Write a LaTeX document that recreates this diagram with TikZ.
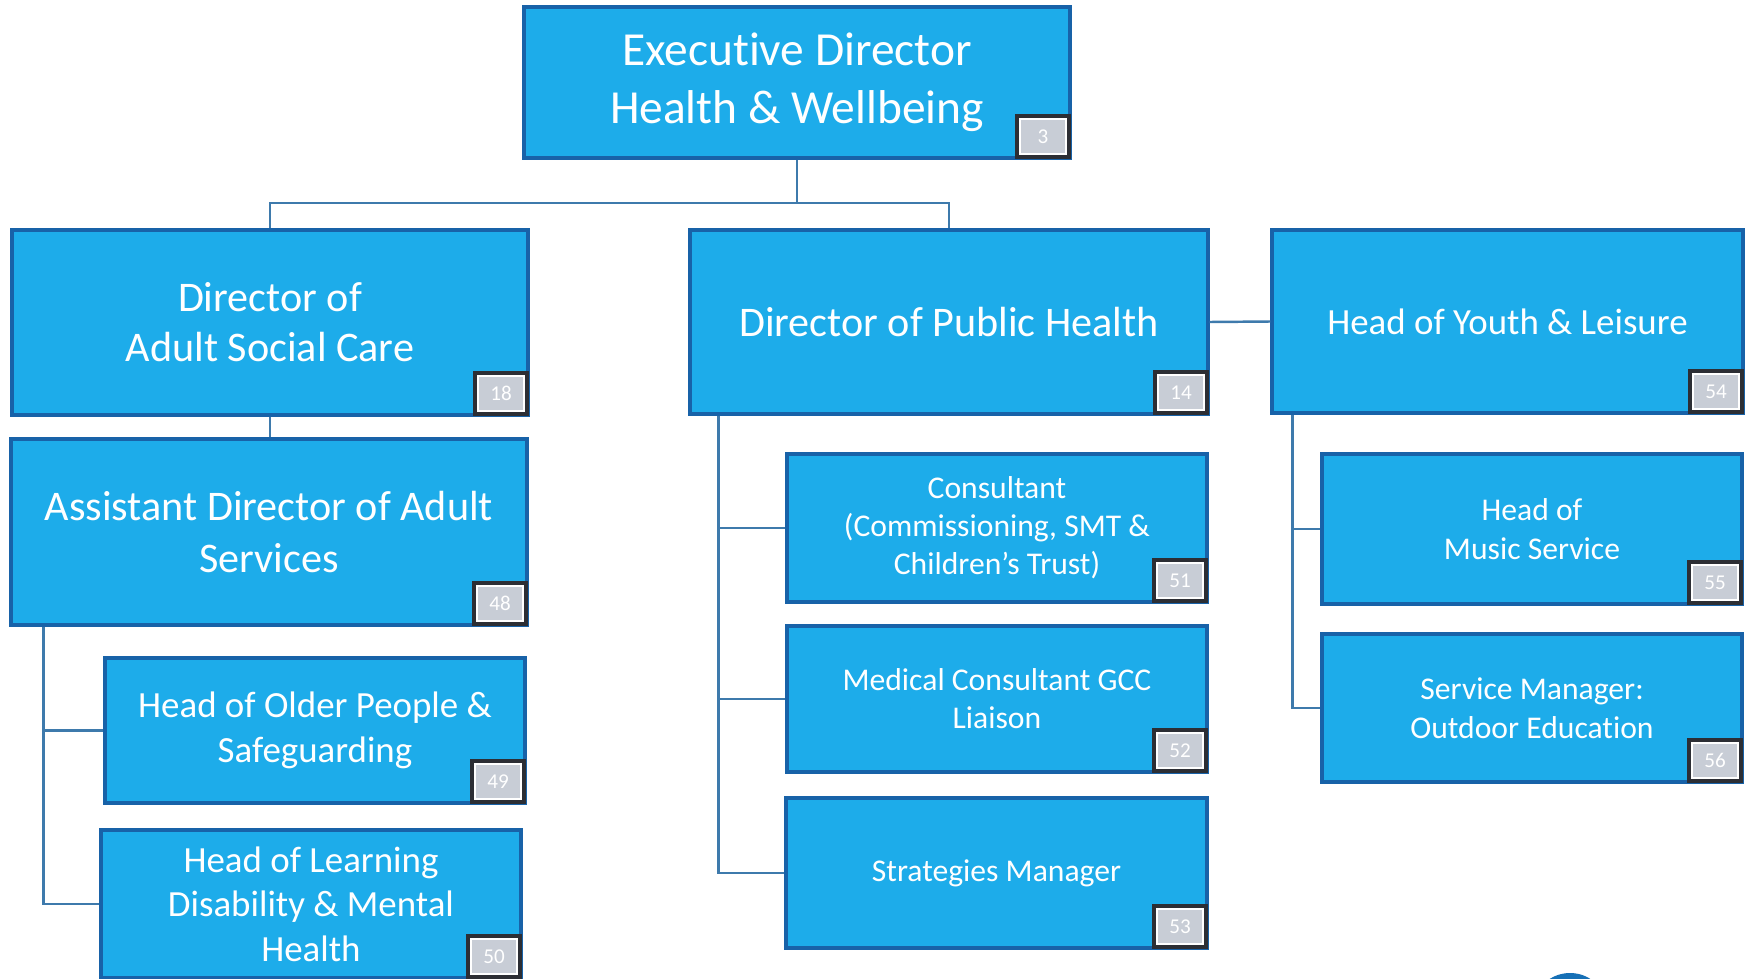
\documentclass[tikz,border=0pt]{standalone}
\usepackage{fontspec}
\setmainfont{Carlito}[Ligatures={TeX,NoCommon}]
\usepackage{tikz}
\usetikzlibrary{positioning}
\usetikzlibrary{calc}
\definecolor{postfill}{RGB}{29,172,234}
\definecolor{postborder}{RGB}{24,98,168}
\definecolor{linkblue}{RGB}{62,122,172}
\definecolor{badgefill}{RGB}{200,205,214}
\definecolor{badgeframe}{RGB}{44,46,52}
\definecolor{logoblue}{RGB}{22,112,182}
\tikzstyle{post}=[rectangle,fill=postfill,draw=postborder,line width=0.9pt,text=white,align=center,inner sep=0pt]
\tikzstyle{badge}=[rectangle,fill=badgefill,draw=white,line width=0.6pt,minimum width=4.6mm,minimum height=3.5mm,inner sep=0pt,text=white,font=\fontsize{6}{7}\selectfont,preaction={draw=badgeframe,line width=2.9pt}]
\tikzstyle{link}=[draw=linkblue,line width=0.7pt]

\begin{document}
\begin{tikzpicture}[x=0.1mm,y=-0.1mm]

  \useasboundingbox (0,0) rectangle (1746,978);
  \clip (0,0) rectangle (1746,978);

  % top
  \node[post,minimum width=54.6mm,minimum height=15.1mm,font=\fontsize{13.5}{16.5}\selectfont] (exec) at (797,82.5) {Executive Director\\Health \& Wellbeing};

  % second row
  \node[post,minimum width=51.6mm,minimum height=18.5mm,font=\fontsize{12}{14.3}\selectfont] (dasc) at (270,322.5) {Director of\\Adult Social Care};
  \node[post,minimum width=51.8mm,minimum height=18.4mm,font=\fontsize{12}{14.3}\selectfont] (dph) at (949,322) {Director of Public Health};
  \node[post,minimum width=47.1mm,minimum height=18.3mm,font=\fontsize{10.5}{12.7}\selectfont] (hyl) at (1507.5,321.5) {Head of Youth \& Leisure};

  % adult services
  \node[post,minimum width=51.6mm,minimum height=18.6mm,font=\fontsize{12}{14.6}\selectfont] (adas) at (269,532) {Assistant Director of Adult\\Services};
  \node[post,minimum width=42mm,minimum height=14.5mm,font=\fontsize{10.5}{12.7}\selectfont] (hop) at (315,730.5) {Head of Older People \&\\Safeguarding};
  \node[post,minimum width=42mm,minimum height=14.8mm,font=\fontsize{10.5}{12.7}\selectfont] (hld) at (311,904) {Head of Learning\\Disability \& Mental\\Health};

  % public health
  \node[post,minimum width=42mm,minimum height=14.8mm,font=\fontsize{9}{10.8}\selectfont] (cons) at (997,528) {Consultant\\(Commissioning, SMT \&\\Children's Trust)};
  \node[post,minimum width=42mm,minimum height=14.6mm,font=\fontsize{9}{10.8}\selectfont] (med) at (997,699) {Medical Consultant GCC\\Liaison};
  \node[post,minimum width=42.1mm,minimum height=15mm,font=\fontsize{9}{10.8}\selectfont] (strat) at (996.5,873) {Strategies Manager};

  % youth & leisure
  \node[post,minimum width=42mm,minimum height=15mm,font=\fontsize{9}{11}\selectfont] (music) at (1532,529) {Head of\\Music Service};
  \node[post,minimum width=42mm,minimum height=14.8mm,font=\fontsize{9}{11}\selectfont] (svc) at (1532,708) {Service Manager:\\Outdoor Education};

  % connectors
  \coordinate (bar) at (797,203);
  \coordinate (ltrunk) at ([xshift=3.4mm]adas.south west);
  \coordinate (ptrunk) at ([xshift=3mm]dph.south west);
  \coordinate (ytrunk) at ([xshift=2.2mm]hyl.south west);

  \draw[link] (exec.south) -- (bar) -| (dasc.north);
  \draw[link] (bar) -| (dph.north);
  \draw[link] (dasc.south) -- (dasc.south |- adas.north);
  \draw[link] (dph.east) -- (hyl.west);
  \foreach \src/\dest in {ltrunk/hop, ltrunk/hld, ptrunk/cons, ptrunk/med, ptrunk/strat, ytrunk/music, ytrunk/svc}
    \draw[link] (\src) |- (\dest.west);

  % post numbers
  \foreach \name/\num in {exec/3, dasc/18, dph/14, hyl/54, adas/48, hop/49, hld/50, cons/51, med/52, strat/53, music/55, svc/56}
    \node[badge,anchor=south east] (\name-no) at ([xshift=-0.45mm,yshift=0.45mm]\name.south east) {\num};

  \fill[logoblue] (1570,1003) ellipse (3.4mm and 3mm);

\end{tikzpicture}
\end{document}
